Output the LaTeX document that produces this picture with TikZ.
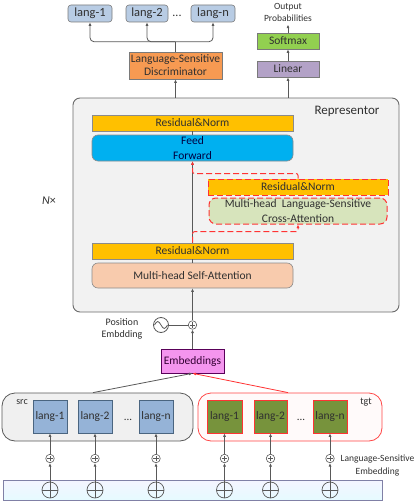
\documentclass[tikz,border=0pt]{standalone}
\usepackage{fontspec}
\setmainfont{Carlito}
\usetikzlibrary{arrows.meta,calc}
\definecolor{txt}{HTML}{303030}
\definecolor{lntop}{HTML}{B8CCE4}
\definecolor{discf}{HTML}{F79A52}
\definecolor{softf}{HTML}{92D050}
\definecolor{linf}{HTML}{B3A2C7}
\definecolor{resf}{HTML}{FFC000}
\definecolor{fff}{HTML}{00B0F0}
\definecolor{saf}{HTML}{F8CBAD}
\definecolor{caf}{HTML}{D7E4BC}
\definecolor{repf}{HTML}{F2F2F2}
\definecolor{embf}{HTML}{F495EE}
\definecolor{srcf}{HTML}{95B3D7}
\definecolor{srcb}{HTML}{4A6580}
\definecolor{tgtf}{HTML}{77933C}
\definecolor{myred}{HTML}{FF3333}
\definecolor{lnc}{HTML}{595959}
\tikzset{
  box/.style={draw=#1, line width=0.6pt, inner sep=0pt, align=center, text=txt, font=\fontsize{11.5}{13}\selectfont},
  arr/.style={draw=lnc, line width=0.8pt, -{Latex[length=3.5pt,width=3pt]}},
  ln/.style={draw=lnc, line width=0.8pt},
  reddash/.style={draw=myred, line width=1pt, dash pattern=on 6pt off 3pt, -{Latex[length=3.5pt,width=3pt]}},
  pluscirc/.style={circle, draw=lnc, line width=0.6pt, minimum size=#1, inner sep=0pt, fill=white,
    path picture={\draw[lnc, line width=0.5pt] ([xshift=-0.3*#1]path picture bounding box.center) -- ([xshift=0.3*#1]path picture bounding box.center)
      ([yshift=-0.3*#1]path picture bounding box.center) -- ([yshift=0.3*#1]path picture bounding box.center);}},
  bigplus/.style={circle, draw=lnc, line width=0.7pt, minimum size=16pt, inner sep=0pt,
    path picture={\draw[lnc, line width=0.7pt] (path picture bounding box.west) -- (path picture bounding box.east)
      (path picture bounding box.north) -- (path picture bounding box.south);}},
}
\begin{document}
\begin{tikzpicture}[x=1pt,y=-1pt]
\useasboundingbox (0,0) rectangle (415,503);

% ---------- top language outputs ----------
\node[box=lnc!80, fill=lntop, rounded corners=3pt, minimum width=44pt, minimum height=17pt, font=\fontsize{12.5}{14}\selectfont] (lt1) at (90,13.5) {lang-1};
\node[box=lnc!80, fill=lntop, rounded corners=3pt, minimum width=42pt, minimum height=17pt, font=\fontsize{12.5}{14}\selectfont] (lt2) at (147,13.5) {lang-2};
\node[box=lnc!80, fill=lntop, rounded corners=3pt, minimum width=44pt, minimum height=17pt, font=\fontsize{12.5}{14}\selectfont] (ltn) at (213,13.5) {lang-n};
\node[text=txt, font=\fontsize{12}{14}\selectfont] (tdots) at (177,16) {...};

\node[box=lnc!80, fill=discf, minimum width=93pt, minimum height=27pt] (disc) at (175.5,65.5) {Language-Sensitive\\Discriminator};
\draw[ln] (disc.north) -- ++(0,-10) coordinate (j);
\draw[arr, rounded corners=4pt] (j) -| (lt1.south);
\draw[arr, rounded corners=4pt] (j) -| (lt2.south);
\draw[arr, rounded corners=4pt] (j) -| (ltn.south);

\node[text=txt, align=center, font=\fontsize{9.5}{12}\selectfont] (outp) at (288,12) {Output\\Probabilities};
\node[box=lnc!80, fill=softf, minimum width=62pt, minimum height=16pt] (soft) at (288,41) {Softmax};
\node[box=lnc!80, fill=linf, minimum width=62pt, minimum height=16pt] (lin) at (288,69) {Linear};
\draw[arr] (soft.north) -- (outp.south);
\draw[arr] (lin.north) -- (soft.south);

% ---------- representor ----------
\node[draw=lnc!90, line width=0.9pt, fill=repf, rounded corners=7pt, minimum width=326pt, minimum height=214pt, inner sep=0pt] (rep) at (236,205) {};
\node[text=txt, font=\fontsize{13}{15}\selectfont] (replab) at (347,111) {Representor};
\node[text=txt, font=\fontsize{12}{14}\selectfont] (nx) at (49,201) {\textit{N}×};
\draw[arr] (disc.south |- rep.north) -- (disc.south);
\draw[arr] (lin.south |- rep.north) -- (lin.south);

\node[box=lnc!70, fill=resf, minimum width=201pt, minimum height=16pt] (rn1) at (192.5,123) {Residual\&Norm};
\node[box=lnc!70, fill=fff, rounded corners=6pt, minimum width=201pt, minimum height=26pt, text=black!75!blue, font=\fontsize{11.5}{15}\selectfont] (ff) at (192.5,148) {Feed\\Forward};
\node[box=myred, fill=resf, dash pattern=on 6pt off 3pt, line width=1pt, minimum width=180pt, minimum height=16pt] (rn3) at (298,187) {Residual\&Norm};
\node[box=myred, fill=caf, dash pattern=on 6pt off 3pt, line width=1pt, rounded corners=7pt, minimum width=178pt, minimum height=26pt, font=\fontsize{11.5}{15}\selectfont] (ca) at (298,211) {Multi-head\ \ Language-Sensitive\\Cross-Attention};
\node[box=lnc!70, fill=resf, minimum width=201pt, minimum height=16pt] (rn2) at (192.5,251) {Residual\&Norm};
\node[box=lnc!70, fill=saf, rounded corners=6pt, minimum width=201pt, minimum height=25pt] (sa) at (192.5,275.5) {Multi-head Self-Attention};

\draw[ln] (sa.north) -- (rn2.south);
\draw[arr] (rn2.north) -- (ff.south);
\draw[ln] (ff.north) -- (rn1.south);
\coordinate (d1) at ($(rn2.north)+(0,-11)$);
\coordinate (d2) at ($(rn3.north)+(0,-5)$);
\draw[reddash, rounded corners=2pt] (rn2.north) -- (d1) -- (d1 -| ca.south) -- (ca.south);
\draw[reddash, rounded corners=2pt] (rn3.north) -- (d2) -- (d2 -| ff.south) -- (ff.south);

% ---------- position embedding ----------
\node[pluscirc=8.5pt] (pl) at (192.5,325) {};
\node[circle, draw=lnc, line width=0.8pt, minimum size=15pt, inner sep=0pt] (sine) at (161,325) {};
\draw[lnc, line width=0.8pt] (154.5,325) sin (157.75,321.5) cos (161,325) sin (164.25,328.5) cos (167.5,325);
\draw[ln] (sine.east) -- (pl.west);
\draw[arr] (pl.north) -- (sa.south);
\node[text=txt, align=center, font=\fontsize{10}{12}\selectfont] (poslab) at (122,329) {Position\\Embdding};

\node[box=violet!70!black, fill=embf, minimum width=63pt, minimum height=24pt, text=violet!40!black, font=\fontsize{11.5}{13}\selectfont] (emb) at (192.5,361) {Embeddings};
\draw[arr] (emb.north) -- (pl.south);

% ---------- src / tgt groups ----------
\node[draw=lnc, line width=0.8pt, fill=black!6, rounded corners=13pt, minimum width=191pt, minimum height=48pt, inner sep=0pt] (srcg) at (97.5,417) {};
\node[draw=myred!90, line width=0.8pt, fill=red!2, rounded corners=13pt, minimum width=184pt, minimum height=48pt, inner sep=0pt] (tgtg) at (290,417) {};
\node[text=txt, font=\fontsize{10}{12}\selectfont] (srclab) at (22,402) {src};
\node[text=txt, font=\fontsize{10}{12}\selectfont] (tgtlab) at (366,402) {tgt};

\draw[arr] (srcg.north -| 93,0) -- (emb.south);
\draw[draw=myred, line width=0.8pt, -{Latex[length=3.5pt,width=3pt]}] (tgtg.north -| 288,0) -- (emb.south);

\node[box=srcb, fill=srcf, minimum width=34pt, minimum height=33pt] (s1) at (50,416.5) {lang-1};
\node[box=srcb, fill=srcf, minimum width=34pt, minimum height=33pt] (s2) at (95,416.5) {lang-2};
\node[box=srcb, fill=srcf, minimum width=34pt, minimum height=33pt] (sn) at (156,416.5) {lang-n};
\node[text=txt, font=\fontsize{11}{13}\selectfont] (sdots) at (128,420) {...};

\node[box=myred, fill=tgtf, minimum width=35pt, minimum height=33pt] (t1) at (224.5,416.5) {lang-1};
\node[box=myred, fill=tgtf, minimum width=33pt, minimum height=33pt] (t2) at (270.5,416.5) {lang-2};
\node[box=myred, fill=tgtf, minimum width=34pt, minimum height=33pt] (tn) at (330,416.5) {lang-n};
\node[text=txt, font=\fontsize{11}{13}\selectfont] (tdots2) at (301,420) {...};

% ---------- bottom bar ----------
\node[draw=blue!30!black!50, line width=0.7pt, top color=blue!4, bottom color=blue!18!cyan!10, minimum width=379pt, minimum height=20pt, inner sep=0pt] (bar) at (192.5,490) {};

\foreach \n/\x/\b in {a/50/s1, b/95/s2, c/156/sn, d/224.5/t1, e/270.5/t2, f/330/tn}{
  \node[pluscirc=8.5pt] (sp\n) at (\x,458.5) {};
  \node[bigplus] (bp\n) at (\x,490) {};
  \draw[arr] (bp\n.north) -- (sp\n.south);
  \draw[arr] (sp\n.north) -- (\b.south);
}
\node[text=txt, align=center, font=\fontsize{9.5}{12.5}\selectfont] (lslab) at (377.5,465.5) {Language-Sensitive\\Embedding};
\end{tikzpicture}
\end{document}
